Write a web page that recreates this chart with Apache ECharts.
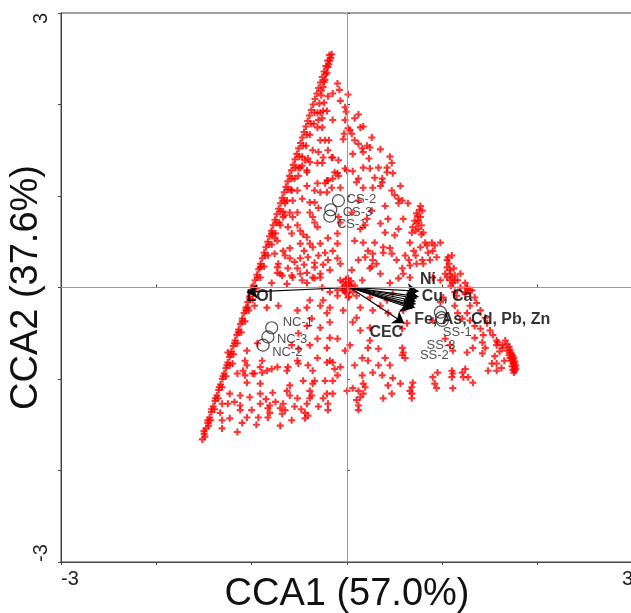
<!DOCTYPE html>
<html>
<head>
<meta charset="utf-8">
<script src="https://cdn.jsdelivr.net/npm/echarts@6/dist/echarts.min.js"></script>
<style>
html,body{margin:0;padding:0;background:#fff;}
#c{width:631px;height:613px;}
</style>
</head>
<body>
<div id="c"></div>
<script>
// ---- axis settings / tick labels ----
const axisMin = -3, axisMax = 3, axisStep = 1;
const tickLabels = ['-3', '3'];
const xName = 'CCA1 (57.0%)';
const yName = 'CCA2 (37.6%)';

// ---- sample scores (red crosses) ----
const edgePoints = [
[-1.517,-1.66],[-1.498,-1.60],[-1.479,-1.54],[-1.460,-1.48],[-1.441,-1.42],[-1.422,-1.36],[-1.403,-1.30],[-1.384,-1.24],
[-1.365,-1.18],[-1.346,-1.12],[-1.327,-1.06],[-1.307,-1.00],[-1.288,-0.94],[-1.269,-0.88],[-1.250,-0.82],[-1.231,-0.76],
[-1.212,-0.70],[-1.193,-0.64],[-1.174,-0.58],[-1.155,-0.52],[-1.136,-0.46],[-1.117,-0.40],[-1.098,-0.34],[-1.079,-0.28],
[-1.060,-0.22],[-1.041,-0.16],[-1.022,-0.10],[-1.003,-0.04],[-0.983,0.02],[-0.964,0.08],[-0.945,0.14],[-0.926,0.20],
[-0.907,0.26],[-0.888,0.32],[-0.869,0.38],[-0.850,0.44],[-0.831,0.50],[-0.812,0.56],[-0.793,0.62],[-0.774,0.68],
[-0.755,0.74],[-0.736,0.80],[-0.717,0.86],[-0.698,0.92],[-0.679,0.98],[-0.659,1.04],[-0.640,1.10],[-0.621,1.16],
[-0.602,1.22],[-0.583,1.28],[-0.564,1.34],[-0.545,1.40],[-0.526,1.46],[-0.507,1.52],[-0.488,1.58],[-0.469,1.64],
[-0.450,1.70],[-0.431,1.76],[-0.412,1.82],[-0.393,1.88],[-0.374,1.94],[-0.355,2.00],[-0.336,2.06],[-0.317,2.12],
[-0.298,2.18],[-0.279,2.24],[-0.260,2.30],[-0.240,2.36],[-0.221,2.42],[-0.202,2.48],[-0.183,2.54],
[-1.49,-1.63],[-1.45,-1.51],[-1.43,-1.45],[-1.39,-1.33],[-1.35,-1.21],[-1.31,-1.09],[-1.27,-0.97],[-1.23,-0.85],
[-1.19,-0.73],[-1.15,-0.61],[-1.11,-0.49],[-1.07,-0.37],[-1.03,-0.25],[-0.99,-0.13],[-0.95,-0.01],[-0.91,0.11],
[-0.87,0.23],[-0.83,0.35],[-0.79,0.47],[-0.75,0.59],[-0.71,0.71],[-0.67,0.83],[-0.63,0.95],[-0.59,1.07],
[-0.55,1.19],[-0.51,1.31],[-0.47,1.43],[-0.43,1.55],[-0.39,1.67],[-0.35,1.79],[-0.31,1.91],[-0.29,2.01],
[-0.27,2.10],[-0.25,2.19],[-0.23,2.27],[-0.21,2.35],[-0.19,2.44],[-0.17,2.51],
[-1.50,-1.57],[-1.46,-1.45],[-1.42,-1.33],[-1.38,-1.21],[-1.34,-1.09],[-1.30,-0.97],[-1.26,-0.85],[-1.22,-0.73],
[-1.18,-0.61],[-1.14,-0.49],[-1.10,-0.37],[-1.06,-0.25],[-1.02,-0.13],[-0.98,-0.01],[-0.94,0.11],[-0.90,0.23],
[-0.86,0.35],[-0.82,0.47],[-0.78,0.59],[-0.74,0.71],[-0.70,0.83],[-0.66,0.95],[-0.62,1.07],[-0.58,1.19],
[-0.54,1.31],[-0.50,1.43],[-0.46,1.55],[-0.42,1.67],[-0.38,1.79],[-0.34,1.91],[-0.27,2.15],[-0.24,2.25],
[-0.22,2.33],[-0.20,2.41],[-0.18,2.48],[-0.16,2.55]
];

const interiorPoints = [
[-0.10,2.23],[-0.08,2.16],[-0.15,2.12],[-0.20,2.09],[-0.24,2.02],[-0.07,2.04],[0.01,2.11],[-0.02,1.97],[-0.01,1.92],
[-0.25,1.93],[-0.21,1.93],[0.12,1.89],[0.08,1.85],[-0.02,1.83],[-0.15,1.83],[-0.26,1.85],[0.03,1.72],[0.05,1.68],
[0.01,1.74],[-0.03,1.68],[0.14,1.75],[0.17,1.76],[-0.26,1.75],[-0.23,1.61],[-0.19,1.61],[-0.04,1.62],[0.08,1.61],
[0.12,1.57],[0.26,1.64],[0.21,1.55],[0.24,1.53],[0.16,1.52],[0.17,1.48],[0.35,1.51],[0.06,1.46],[-0.20,1.50],
[-0.15,1.42],[-0.09,1.39],[0.23,1.41],[0.45,1.43],[0.47,1.36],[0.17,1.31],[0.24,1.30],[0.33,1.31],[0.42,1.31],
[0,1.28],[0.06,1.27],[-0.26,1.36],[-0.13,1.26],[-0.09,1.22],[0.42,1.26],[0.48,1.25],[0.29,1.20],[0.37,1.19],
[0.37,1.15],[0.35,1.11],[0.12,1.19],[0.10,1.15],[-0.15,1.19],[-0.21,1.17],[0.56,1.11],[0.17,1.09],[0.27,1.09],
[-0.07,1.09],[-0.16,1.09],
[-0.28,1.91],[-0.30,1.83],[-0.31,1.75],[-0.28,1.61],[-0.36,1.50],[-0.30,1.48],[-0.41,1.41],[-0.44,1.39],
[-0.31,1.36],[-0.49,1.31],[-0.42,1.28],[-0.51,1.22],
[0.47,1.06],[0.50,1.01],[0.54,0.97],[0.58,0.95],[0.64,0.92],[0.54,0.92],[0.77,0.89],[0.79,0.84],[0.73,0.81],
[0.77,0.77],[0.71,0.73],[0.73,0.70],[0.69,0.66],[0.75,0.64],[0.80,0.60],[0.68,0.60],[0.66,0.49],[0.43,0.75],
[0.35,0.70],[0.54,0.64],[0.21,0.75],[0.19,0.68],[0.08,0.51],[0.17,0.49],[0.29,0.49],[0.38,0.44],[0.45,0.43],
[0.47,0.37],[0.38,0.38],[0.27,0.37],[0.22,0.40],[0.19,0.33],[0.27,0.30],[0.26,0.23],[0.35,0.15],[0.52,0.30],
[0.58,0.21],[0.54,0.10],[0.05,0.19],[0.01,0.10],[0.79,0.30],[0.87,0.30],[0.77,0.44],[0.82,0.49],[0.84,0.46],
[0.89,0.49],[0.92,0.46],[0.98,0.49],[0.90,0.40],[0.94,0.33],[1.05,0.30],[1.06,0.33],[1.10,0.35],[1.05,0.22],
[1.08,0.19],[1.10,0.11],[1.03,0.15],[1.13,0.13],[1.16,0.08],[1.11,0.05],[1.08,0.08],[1.19,0],[1.26,-0.01],
[1.29,-0.03],[1.24,-0.05],[1.13,-0.05],[1.15,-0.09],[0.90,0.11],[0.98,0.08],[0.75,0.73],[0.78,0.68],
[1.07,0.26],[1.12,0.21],[1.09,0.02],
[-0.25,1.42],[-0.16,1.42],[-0.39,1.37],[-0.47,1.33],[-0.42,1.26],[-0.10,1.25],[-0.02,1.30],[-0.20,1.17],
[-0.23,1.14],[-0.31,1.14],[-0.42,1.11],[-0.34,1.06],[-0.21,1.04],[-0.28,1.04],[-0.52,1.06],[-0.47,0.97],
[-0.39,0.93],[-0.34,0.93],[-0.30,0.87],[-0.39,0.82],[-0.36,0.77],[-0.34,0.71],[-0.31,0.66],[-0.52,0.82],
[-0.60,0.82],[-0.57,0.77],[-0.65,0.79],[-0.52,0.68],[-0.58,0.59],[-0.49,0.62],[-0.42,0.55],[-0.39,0.48],
[-0.36,0.44],[-0.49,0.48],[-0.60,0.43],[-0.67,0.40],[-0.73,0.51],[-0.76,0.37],[-0.65,0.35],[-0.60,0.32],
[-0.49,0.32],[-0.41,0.33],[-0.34,0.27],[-0.34,0.22],[-0.23,0.38],[-0.15,0.40],[-0.10,0.32],[-0.07,0.26],
[-0.10,0.48],[-0.10,0.59],[-0.07,0.71],[-0.09,0.77],[-0.20,0.54],[-0.73,0.22],[-0.70,0.15],[-0.72,0.26],
[-0.62,0.21],[-0.52,0.21],[-0.49,0.15],[-0.57,0.11],[-0.36,0.11],[-0.28,0.11],[-0.42,0.05],[-0.26,0],
[-0.18,-0.05],[-0.10,-0.03],[-0.04,-0.03],[-0.79,0.05],[-0.63,0.04],
[-0.79,0.59],[-0.76,0.54],[-0.70,0.68],[-0.62,0.66],[-0.67,0.77],[-0.57,0.95],[-0.65,0.92],[-0.58,1.06],
[0,0],[0.02,0.03],[-0.02,0.02],[0.03,-0.02],[-0.03,-0.03],[0.01,0.05],[0.05,0.01],[-0.05,0.0],[0.0,-0.06],
[0.04,0.07],[-0.01,0.09],[0.06,-0.05],[-0.04,0.06],[0.02,-0.10],[0.08,0.02],
[-0.91,0.22],[-0.73,0.16],[-0.68,0.13],[-0.58,0.13],[-0.42,0.16],[-0.28,0.15],[-0.18,0.19],[-0.47,0.08],
[-0.34,0.10],[-0.07,0.08],[-0.02,-0.05],[0.01,-0.11],[0.10,-0.09],[-1.04,-0.22],[-0.97,-0.20],[-0.84,-0.22],
[-0.72,-0.20],[-0.52,-0.25],[-0.42,-0.22],[-0.39,-0.14],[-0.25,-0.14],[-0.10,-0.09],[-0.28,-0.20],[-0.18,-0.22],
[-0.04,-0.25],[-0.37,-0.34],[-0.21,-0.28],[-0.42,-0.42],[-0.28,-0.44],[-0.18,-0.38],[-0.51,-0.50],[-0.31,-0.56],
[-0.18,-0.55],[-0.10,-0.56],[-0.58,-0.63],[-0.51,-0.67],[-0.39,-0.63],[-0.21,-0.66],[-0.02,-0.69],[0.03,-0.63],
[-1.05,-0.69],[-0.94,-0.61],[-1.07,-0.80],[-0.89,-0.80],[-0.52,-0.80],[-0.31,-0.77],[-0.18,-0.80],[-0.07,-0.87],
[-0.84,-0.91],[-0.73,-0.87],[-0.62,-0.87],[-0.99,-0.94],[-1.09,-0.91],[0.16,-0.77],[0.22,-0.66],[0.24,-0.58],
[0.10,-0.33],[0.14,-0.22],[0.24,-0.11],[0.27,-0.25],[0.35,-0.20],[0.42,-0.14],[0.48,-0.07],[0.43,-0.28],
[0.59,-0.25],[0.24,-0.44],[0.24,0.21],[0.31,0.26],[0.59,0.15],[0.66,0.11],[0.73,0.26],[0.80,0.26],
[-1.25,-0.71],[-1.20,-0.83],[-1.05,-0.85],[-1.15,-0.94],[-1.07,-0.96],[-0.97,-0.94],[-0.89,-0.93],[-0.91,-0.87],
[-0.79,-0.89],[-0.63,-0.91],[-0.51,-0.83],[-0.41,-0.85],[-0.36,-0.91],[-0.21,-0.82],[-0.15,-0.82],[-0.13,-0.89],
[-0.10,-0.96],[-0.15,-1.02],[-0.23,-1.02],[-0.34,-1.02],[-0.36,-1.05],[-0.46,-1.02],[-0.60,-1.07],[-0.91,-1.05],
[-1.05,-1.04],[-1.23,-1.16],[-1.12,-1.18],[-0.91,-1.16],[-0.78,-1.15],[-0.63,-1.13],[-0.60,-1.18],[-0.39,-1.13],
[-0.37,-1.18],[-0.52,-1.21],[-0.39,-1.21],[-0.42,-1.27],[-0.21,-1.16],[-0.25,-1.21],[-0.20,-1.27],[-0.15,-1.16],
[-1.31,-1.27],[-1.25,-1.27],[-1.12,-1.34],[-1.12,-1.29],[-1.00,-1.34],[-0.91,-1.27],[-0.81,-1.29],[-0.67,-1.27],
[-0.83,-1.32],[-0.70,-1.32],[-0.81,-1.37],[-0.83,-1.42],[-0.68,-1.38],[-0.65,-1.34],[-0.44,-1.37],[-0.41,-1.40],
[-0.44,-1.43],[-0.20,-1.34],[-1.33,-1.37],[-1.23,-1.43],[-1.31,-1.45],[-1.31,-1.54],[-1.15,-1.58],[-1.05,-1.42],
[-0.93,-1.42],[-0.70,-1.51],[0,-1.13],[0.06,-1.10],[0.16,-0.96],[0.17,-1.05],[0.12,-1.13],[0.14,-1.20],
[0.10,-1.23],[0.12,-1.29],[0.12,-1.34],[0.17,-1.16],[0.19,-1.09],
[0.06,-0.38],[0.14,-0.47],[0.33,-0.67],[0.40,-0.77],[0.45,-0.85],[0.33,-0.85],[0.27,-0.93],[0.48,-0.99],
[0.43,-1.07],[0.56,-1.05],[0.47,-1.16],[0.38,-1.21],[0.08,-0.85],[0.22,-0.80],[0.37,-0.96],
[0.58,-0.74],[0.61,-0.77],[0.90,-0.98],[0.95,-0.93],[0.92,-1.05],[0.94,-1.10],[1.10,-0.91],[1.11,-0.94],
[1.10,-0.98],[1.21,-0.93],[1.24,-0.89],[1.22,-0.98],[1.27,-0.98],[1.32,-1.04],[1.11,-1.10],[0.69,-1.04],
[0.68,-1.09],[0.66,-1.13],[0.68,-1.16],[0.68,-1.21],[1.45,-0.66],[1.42,-0.72],[1.57,-0.63],[1.58,-0.60],
[1.63,-0.66],[1.52,-0.83],[1.57,-0.83],[1.48,-0.91],[1.57,-0.91],
[1.05,0.11],[1.08,0.15],[1.19,0.15],[1.13,0.08],[1.24,0.05],[1.26,0],[1.31,-0.03],[1.34,-0.11],[1.36,-0.17],
[1.40,-0.25],[1.45,-0.33],[1.47,-0.39],[1.50,-0.47],[1.53,-0.52],[1.57,-0.58],[1.63,-0.63],[1.68,-0.69],
[1.71,-0.77],[1.74,-0.83],[1.26,-0.28],[1.29,-0.36],[1.34,-0.42],[1.40,-0.45],[1.43,-0.52],[1.42,-0.60],
[1.16,-0.28],[1.34,-0.55],[1.32,-0.66],[1.26,-0.71],[1.08,-0.63],[1.11,-0.69],[0.98,-0.16],[1.01,-0.11],
[1.24,-0.07],[0.58,-0.66],[0.59,-0.71],[0.63,-0.39],[0.58,-0.45],[0.90,-0.36],
[1.13,-0.20],[1.21,-0.34],[1.03,-0.56],[1.29,-0.20],
[0.12,0.95],[0.05,0.82],[0.40,0.89],[0.26,0.84],[0.59,0.75],[0.50,0.57],[0.14,0.64],[0.40,0.60],
[0.61,0.35],[0.66,0.24],[0.12,0.30],[0.16,0.08],[0.45,0.05],
[-0.45,0.40],[-0.30,0.35],[-0.25,0.25],[-0.45,0.25],[-0.55,0.28],[-0.20,0.30],[-0.28,0.48],[-0.46,0.58],
[-1.18,-1.25],[-1.02,-1.20],[-0.85,-1.22],[-0.75,-1.25],[-0.55,-1.30],[-0.48,-1.33],[-0.30,-1.30],[-0.95,-1.50],
[-1.10,-1.48],[-0.58,-1.45],[0.70,0.40],[0.72,0.35],[0.65,0.30],[0.85,0.38],[1.60,-0.70],[1.55,-0.75],
[1.65,-0.80],[1.62,-0.88],[0.76,0.85],[0.74,0.78],[0.72,0.62],[0.78,0.58]
];

const cornerPoints = [
[1.66,-0.58],[1.68,-0.62],[1.70,-0.65],[1.71,-0.68],[1.72,-0.71],[1.73,-0.73],[1.74,-0.75],[1.75,-0.77],
[1.74,-0.79],[1.76,-0.81],[1.75,-0.83],[1.77,-0.85],[1.76,-0.87],[1.77,-0.89],[1.76,-0.91],[1.75,-0.93],
[1.72,-0.80],[1.70,-0.74],[1.73,-0.86],[1.74,-0.90]
];

// ---- environmental variable arrows ----
const arrowOrigin = [0.03, 0.0];
const arrowNames = ['LOI','Ni','Cu','Ca','Fe','As','Cd','Pb','Zn','CEC'];
const arrowEnds = [
[-1.05,-0.05],[0.75,-0.04],[0.75,-0.10],[0.73,-0.12],[0.72,-0.15],[0.72,-0.18],[0.70,-0.20],[0.71,-0.22],[0.68,-0.23],[0.60,-0.39]
];
const arrowLabelText = ['LOI','Ni','Cu, Ca','Fe, As, Cd, Pb, Zn','CEC'];
const arrowLabelPos = [[-1.05,-0.10],[0.77,0.08],[0.79,-0.11],[0.71,-0.36],[0.24,-0.50]];

// ---- sites ----
const siteNames = ['CS-2','CS-3','CS-1','NC-1','NC-3','NC-2','SS-1','SS-3','SS-2'];
const sitePos = [[-0.09,0.95],[-0.17,0.85],[-0.18,0.78],[-0.79,-0.44],[-0.83,-0.54],[-0.88,-0.63],[0.98,-0.27],[1.00,-0.36],[0.99,-0.33]];
const siteLabelPos = [[0.00,0.96],[-0.04,0.82],[-0.10,0.68],[-0.67,-0.39],[-0.73,-0.57],[-0.78,-0.72],[1.01,-0.50],[0.84,-0.64],[0.77,-0.75]];

const FONT = 'Arial, "Liberation Sans", sans-serif';
const plusPath = 'path://M-1.2,-4H1.2V-1.2H4V1.2H1.2V4H-1.2V1.2H-4V-1.2H-1.2Z';

const chart = echarts.init(document.getElementById('c'), null, {renderer: 'canvas'});

const baseAxis = {
  min: axisMin, max: axisMax, interval: axisStep,
  splitLine: {show: false},
};
function lbl(v){ const s = String(v); return tickLabels.indexOf(s) >= 0 ? s : ''; }

const option = {
  backgroundColor: '#fff',
  animation: false,
  grid: {left: 61, right: -2, top: 13, bottom: 51, containLabel: false, outerBoundsMode: 'none',
         show: true, borderColor: '#444', borderWidth: 1, backgroundColor: 'transparent'},
  xAxis: [
    Object.assign({}, baseAxis, {
      type: 'value', position: 'bottom',
      name: xName, nameLocation: 'middle', nameGap: 14, nameMoveOverlap: false,
      nameTextStyle: {fontSize: 38, color: '#111', fontFamily: FONT, verticalAlign: 'top'},
      axisLine: {show: true, onZero: false, lineStyle: {color: '#444', width: 1}},
      axisTick: {show: true, length: 3, lineStyle: {color: '#444'}},
      axisLabel: {show: true, formatter: lbl, fontSize: 20, color: '#222', fontFamily: FONT, margin: 7,
                  alignMinLabel: 'left', alignMaxLabel: 'right'}
    }),
    Object.assign({}, baseAxis, {
      type: 'value', position: 'bottom',
      axisLine: {show: false}, axisLabel: {show: false},
      axisTick: {show: true, inside: true, length: 3, lineStyle: {color: '#444'}}
    })
  ],
  yAxis: [
    Object.assign({}, baseAxis, {
      type: 'value', position: 'left',
      name: yName, nameLocation: 'middle', nameGap: 15, nameRotate: 90, nameMoveOverlap: false,
      nameTextStyle: {fontSize: 38, color: '#111', fontFamily: FONT},
      axisLine: {show: true, onZero: false, lineStyle: {color: '#444', width: 1}},
      axisTick: {show: true, length: 3, lineStyle: {color: '#444'}},
      axisLabel: {show: true, formatter: lbl, fontSize: 20, color: '#222', fontFamily: FONT, margin: 10, rotate: 90,
                  alignMinLabel: 'left', alignMaxLabel: 'right'}
    }),
    Object.assign({}, baseAxis, {
      type: 'value', position: 'left',
      axisLine: {show: false}, axisLabel: {show: false},
      axisTick: {show: true, inside: true, length: 3, lineStyle: {color: '#444'}}
    })
  ],
  series: [
    {
      type: 'scatter', xAxisIndex: 0, yAxisIndex: 0, z: 2,
      symbol: plusPath, symbolSize: 7,
      itemStyle: {color: '#ff0000'},
      data: edgePoints.concat(interiorPoints, cornerPoints),
      markLine: {
        silent: true, symbol: ['none', 'none'], label: {show: false},
        lineStyle: {color: '#999', width: 1, type: 'solid'},
        data: [{xAxis: 0}, {yAxis: 0}]
      }
    },
    {
      type: 'lines', coordinateSystem: 'cartesian2d', xAxisIndex: 0, yAxisIndex: 0, z: 4,
      symbol: ['none', 'arrow'], symbolSize: 11,
      lineStyle: {color: '#000', width: 1.2, opacity: 1},
      data: arrowEnds.map((e, i) => ({name: arrowNames[i], coords: [arrowOrigin, e]}))
    },
    {
      type: 'scatter', xAxisIndex: 0, yAxisIndex: 0, z: 5,
      symbol: 'circle', symbolSize: 12,
      itemStyle: {color: 'rgba(255,255,255,0)', borderColor: '#222', borderWidth: 1.2},
      data: sitePos
    },
    {
      type: 'scatter', xAxisIndex: 0, yAxisIndex: 0, z: 6, silent: true,
      symbolSize: 1, itemStyle: {color: 'rgba(0,0,0,0)'},
      label: {show: true, position: [0, 0], align: 'left', verticalAlign: 'middle',
              formatter: p => p.name, fontSize: 13, color: '#222', fontFamily: FONT},
      data: siteLabelPos.map((p, i) => ({name: siteNames[i], value: p}))
    },
    {
      type: 'scatter', xAxisIndex: 0, yAxisIndex: 0, z: 6, silent: true,
      symbolSize: 1, itemStyle: {color: 'rgba(0,0,0,0)'},
      label: {show: true, position: [0, 0], align: 'left', verticalAlign: 'middle',
              formatter: p => p.name, fontSize: 16, fontWeight: 'bold', color: '#000', fontFamily: FONT},
      data: arrowLabelPos.map((p, i) => ({name: arrowLabelText[i], value: p}))
    }
  ]
};
chart.setOption(option);
</script>
</body>
</html>
